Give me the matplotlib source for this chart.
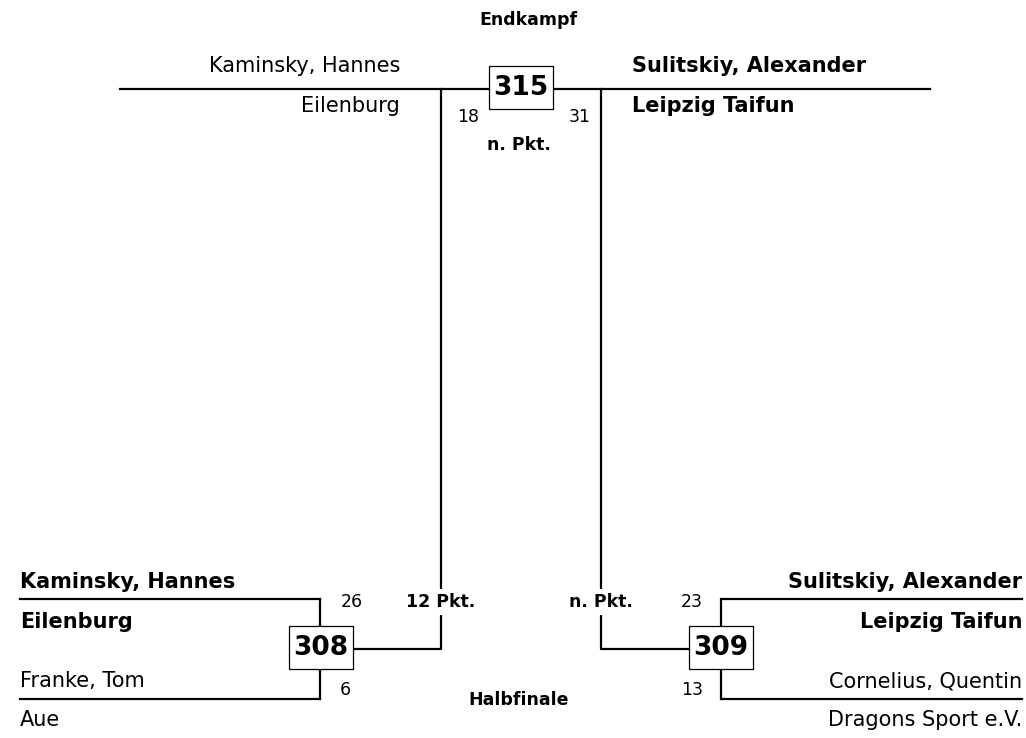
import matplotlib.pyplot as plt
from matplotlib.patches import Rectangle

plt.rcParams['font.family'] = ['DejaVu Sans']

# semifinal data
sf_match = ['308', '309']
sf_top_name = ['Kaminsky, Hannes', 'Sulitskiy, Alexander']
sf_top_club = ['Eilenburg', 'Leipzig Taifun']
sf_bot_name = ['Franke, Tom', 'Cornelius, Quentin']
sf_bot_club = ['Aue', 'Dragons Sport e.V.']
sf_top_score = ['26', '23']
sf_bot_score = ['6', '13']
sf_result = ['12 Pkt.', 'n. Pkt.']

# final data
f_match = '315'
f_names = ['Kaminsky, Hannes', 'Sulitskiy, Alexander']
f_clubs = ['Eilenburg', 'Leipzig Taifun']
f_scores = ['18', '31']
f_result = 'n. Pkt.'
f_winner = 1

fig = plt.figure(figsize=(10.26, 7.38), dpi=100)
ax = fig.add_axes([0, 0, 1, 1])
ax.set_xlim(0, 1026)
ax.set_ylim(738, 0)
ax.axis('off')

lw = 1.6
NAME = 15
SMALL = 12.5
BOX = 19


def box(xc, yc, label):
    ax.add_patch(Rectangle((xc - 32, yc - 21), 64, 43, fill=True, fc='white',
                           ec='black', lw=0.9, zorder=3))
    ax.text(xc, yc + 1, label, ha='center', va='center', fontsize=BOX,
            fontweight='bold', zorder=4)


# ---- final ----
ax.text(528, 20, 'Endkampf', ha='center', va='center', fontsize=SMALL, fontweight='bold')
ax.plot([120, 930], [89, 89], color='black', lw=lw, zorder=1)
box(521, 87, f_match)
wl = ['bold' if i == f_winner else 'normal' for i in range(2)]
ax.text(400, 66, f_names[0], ha='right', va='center', fontsize=NAME, fontweight=wl[0])
ax.text(400, 106, f_clubs[0], ha='right', va='center', fontsize=NAME, fontweight=wl[0])
ax.text(632, 66, f_names[1], ha='left', va='center', fontsize=NAME, fontweight=wl[1])
ax.text(632, 106, f_clubs[1], ha='left', va='center', fontsize=NAME, fontweight=wl[1])
ax.text(468, 117, f_scores[0], ha='center', va='center', fontsize=SMALL)
ax.text(580, 117, f_scores[1], ha='center', va='center', fontsize=SMALL)
ax.text(519, 145, f_result, ha='center', va='center', fontsize=SMALL, fontweight='bold')
ax.text(519, 700, 'Halbfinale', ha='center', va='center', fontsize=SMALL, fontweight='bold')

# ---- semifinals ----
line_x = [(20, 320), (722, 1022)]
vert_x = [320, 721]
box_x = [321, 721]
feed_x = [441, 601]
for i in range(2):
    x0, x1 = line_x[i]
    ax.plot([x0, x1], [599, 599], color='black', lw=lw)
    ax.plot([x0, x1], [699, 699], color='black', lw=lw)
    ax.plot([vert_x[i], vert_x[i]], [599, 699], color='black', lw=lw)
    box(box_x[i], 647, sf_match[i])
    # connector to final
    edge = box_x[i] + 32 if i == 0 else box_x[i] - 32
    ax.plot([edge, feed_x[i], feed_x[i]], [649, 649, 89], color='black', lw=lw, zorder=1)
    ax.text(feed_x[i], 602, sf_result[i], ha='center', va='center', fontsize=SMALL,
            fontweight='bold', zorder=2,
            bbox=dict(fc='white', ec='none', pad=3))
    if i == 0:
        tx, ha = 20, 'left'
        sx = 352
    else:
        tx, ha = 1022, 'right'
        sx = 692
    ax.text(tx, 582, sf_top_name[i], ha=ha, va='center', fontsize=NAME, fontweight='bold')
    ax.text(tx, 622, sf_top_club[i], ha=ha, va='center', fontsize=NAME, fontweight='bold')
    ax.text(tx, 681, sf_bot_name[i], ha=ha, va='center', fontsize=NAME)
    ax.text(tx, 720, sf_bot_club[i], ha=ha, va='center', fontsize=NAME)
    ax.text(sx, 602, sf_top_score[i], ha='center', va='center', fontsize=SMALL)
    ax.text(sx if i == 1 else 345, 690, sf_bot_score[i], ha='center', va='center', fontsize=SMALL)

fig.savefig('out.png', dpi=100)
